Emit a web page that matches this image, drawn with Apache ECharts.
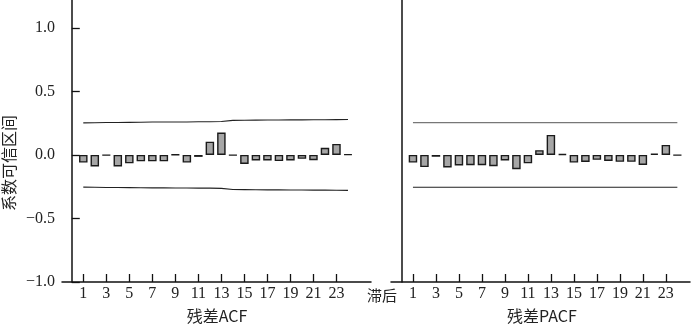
<!DOCTYPE html>
<html>
<head>
<meta charset="utf-8">
<script src="https://cdn.jsdelivr.net/npm/echarts@6/dist/echarts.min.js"></script>
<style>html,body{margin:0;padding:0;background:#fff}#c{width:700px;height:325px}</style>
</head>
<body>
<div id="c"></div>
<script>
var lags = [1,2,3,4,5,6,7,8,9,10,11,12,13,14,15,16,17,18,19,20,21,22,23,24];
var acfValues = [-0.06,-0.09,-0.003,-0.09,-0.066,-0.05,-0.05,-0.05,0.003,-0.06,-0.015,0.105,0.176,-0.003,-0.071,-0.043,-0.043,-0.048,-0.043,-0.03,-0.041,0.056,0.087,0.005];
var pacfValues = [-0.06,-0.095,-0.014,-0.098,-0.082,-0.08,-0.08,-0.088,-0.043,-0.112,-0.066,0.038,0.158,0.007,-0.06,-0.055,-0.038,-0.047,-0.054,-0.054,-0.078,0.011,0.079,-0.002];
var acfUpper = [0.253,0.254,0.256,0.256,0.257,0.258,0.259,0.259,0.26,0.26,0.261,0.261,0.263,0.272,0.273,0.274,0.275,0.275,0.276,0.276,0.277,0.277,0.278,0.279];
var acfLower = [-0.253,-0.254,-0.256,-0.256,-0.257,-0.258,-0.259,-0.259,-0.26,-0.26,-0.261,-0.261,-0.263,-0.272,-0.273,-0.274,-0.275,-0.275,-0.276,-0.276,-0.277,-0.277,-0.278,-0.279];
var pacfUpper = [0.254,0.254,0.254,0.254,0.254,0.254,0.254,0.254,0.254,0.254,0.254,0.254,0.254,0.254,0.254,0.254,0.254,0.254,0.254,0.254,0.254,0.254,0.254,0.254];
var pacfLower = [-0.254,-0.254,-0.254,-0.254,-0.254,-0.254,-0.254,-0.254,-0.254,-0.254,-0.254,-0.254,-0.254,-0.254,-0.254,-0.254,-0.254,-0.254,-0.254,-0.254,-0.254,-0.254,-0.254,-0.254];
var xTickValues = [1,3,5,7,9,11,13,15,17,19,21,23];
var yTickValues = [-1.0,-0.5,0.0,0.5,1.0];
var yTickLabels = ['\u22121.0','\u22120.5','0.0','0.5','1.0'];
var yAxisTitle = '系数可信区间';
var xTitleLeft = '残差ACF';
var xTitleRight = '残差PACF';
var lagLabel = '滞后';

function pairs(xs, ys){ return xs.map(function(x,i){return [x, ys[i]];}); }

var serif = "'Liberation Serif', 'Times New Roman', serif";

function xAxisCfg(idx, min, max){
  return {
    type:'value', gridIndex: idx, min:min, max:max,
    axisLine:{show:true, onZero:false, lineStyle:{color:'#111', width:1.5}},
    axisTick:{show:true, inside:true, length:8, customValues: xTickValues, lineStyle:{color:'#111', width:1.3}},
    axisLabel:{show:true, customValues: xTickValues, margin:4, fontFamily: serif, fontSize:16, color:'#222'},
    splitLine:{show:false}
  };
}
function yAxisCfg(idx, showTicks){
  return {
    type:'value', gridIndex: idx, min:-1.0, max:1.22,
    axisLine:{show:true, lineStyle:{color:'#111', width:1.5}},
    axisTick:{show:showTicks, inside:true, length:8, customValues: yTickValues, lineStyle:{color:'#111', width:1.3}},
    axisLabel:{show:showTicks, customValues: yTickValues, margin:7, fontFamily: serif, fontSize:16, color:'#222',
      formatter:function(v){ var i = yTickValues.indexOf(Math.round(v*10)/10); return i>=0 ? yTickLabels[i] : ''; }},
    splitLine:{show:false}
  };
}
var barStyle = {color:'#a6a6a6', borderColor:'#1a1a1a', borderWidth:1.4};

var chart = echarts.init(document.getElementById('c'), null, {renderer:'canvas'});
chart.setOption({
  animation:false,
  backgroundColor:'#fff',
  grid:[
    {left:62, top:0, width:309, height:282},
    {left:391, top:0, width:299, height:282}
  ],
  xAxis:[ xAxisCfg(0, -0.85, 26.0), xAxisCfg(1, -0.91, 25.1) ],
  yAxis:[ yAxisCfg(0, true), yAxisCfg(1, false) ],
  series:[
    {type:'bar', xAxisIndex:0, yAxisIndex:0, barWidth:8.5, data:pairs(lags, acfValues), itemStyle:barStyle},
    {type:'line', xAxisIndex:0, yAxisIndex:0, data:pairs(lags, acfUpper), symbol:'none', lineStyle:{color:'#222', width:1.1}},
    {type:'line', xAxisIndex:0, yAxisIndex:0, data:pairs(lags, acfLower), symbol:'none', lineStyle:{color:'#222', width:1.1}},
    {type:'bar', xAxisIndex:1, yAxisIndex:1, barWidth:8.5, data:pairs(lags, pacfValues), itemStyle:barStyle},
    {type:'line', xAxisIndex:1, yAxisIndex:1, data:pairs(lags, pacfUpper), symbol:'none', lineStyle:{color:'#777', width:1.3}},
    {type:'line', xAxisIndex:1, yAxisIndex:1, data:pairs(lags, pacfLower), symbol:'none', lineStyle:{color:'#222', width:1.1}}
  ],
  graphic:[
    {type:'text', x:9, y:163, rotation:Math.PI/2, style:{text:yAxisTitle, font:"16px 'Noto Sans CJK SC'", fill:'#222', align:'center', verticalAlign:'middle'}},
    {type:'text', x:217, y:316, style:{text:xTitleLeft, font:"16px 'Noto Sans CJK SC'", fill:'#222', align:'center', verticalAlign:'middle'}},
    {type:'text', x:542, y:316, style:{text:xTitleRight, font:"16px 'Noto Sans CJK SC'", fill:'#222', align:'center', verticalAlign:'middle'}},
    {type:'text', x:382, y:295, style:{text:lagLabel, font:"15px 'Noto Sans CJK SC'", fill:'#222', align:'center', verticalAlign:'middle'}}
  ]
});
</script>
</body>
</html>
